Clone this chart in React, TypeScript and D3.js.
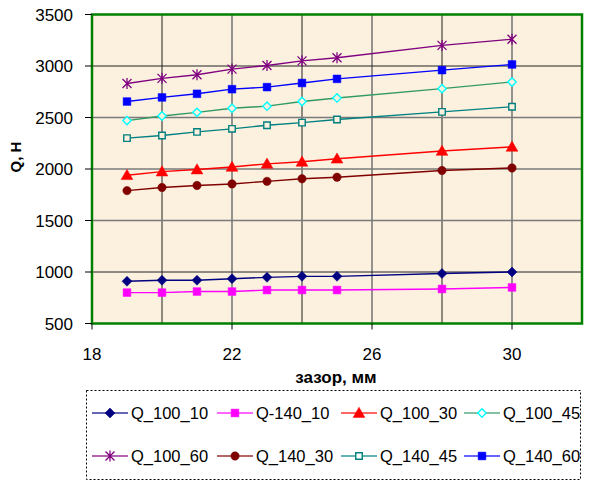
import React, { useEffect, useRef } from "react";
import * as d3 from "d3";

const gap = [19, 20, 21, 22, 23, 24, 25, 28, 30];

const q100_10 = [910, 920, 920, 935, 948, 958, 958, 985, 1000];
const q140_10 = [800, 800, 810, 810, 825, 825, 825, 835, 850];
const q100_30 = [1940, 1975, 1995, 2020, 2050, 2070, 2100, 2175, 2215];
const q100_45 = [2470, 2515, 2550, 2590, 2610, 2655, 2690, 2780, 2845];
const q100_60 = [2830, 2880, 2915, 2970, 3005, 3050, 3080, 3200, 3260];
const q140_30 = [1790, 1820, 1840, 1855, 1880, 1905, 1920, 1985, 2010];
const q140_45 = [2300, 2325, 2360, 2390, 2425, 2450, 2480, 2555, 2605];
const q140_60 = [2655, 2695, 2730, 2775, 2795, 2835, 2875, 2960, 3015];

const xTicks = [18, 22, 26, 30];
const yTicks = [500, 1000, 1500, 2000, 2500, 3000, 3500];

type Series = { name: string; values: number[]; line: string; marker: string; fill: string; shape: string };

const series: Series[] = [
  { name: "Q_100_10", values: q100_10, line: "#000080", marker: "#000080", fill: "#000080", shape: "diamond" },
  { name: "Q-140_10", values: q140_10, line: "#ff00ff", marker: "#ff00ff", fill: "#ff00ff", shape: "square" },
  { name: "Q_100_30", values: q100_30, line: "#ff0000", marker: "#ff0000", fill: "#ff0000", shape: "triangle" },
  { name: "Q_100_45", values: q100_45, line: "#339966", marker: "#00ffff", fill: "#fbf1de", shape: "diamond" },
  { name: "Q_100_60", values: q100_60, line: "#800080", marker: "#800080", fill: "none", shape: "star" },
  { name: "Q_140_30", values: q140_30, line: "#800000", marker: "#800000", fill: "#800000", shape: "circle" },
  { name: "Q_140_45", values: q140_45, line: "#008080", marker: "#008080", fill: "#fbf1de", shape: "square" },
  { name: "Q_140_60", values: q140_60, line: "#0000ff", marker: "#0000ff", fill: "#0000ff", shape: "square" },
];

const W = 589;
const H = 481;
const left = 92, right = 582, top = 14.5, bottom = 323.5;

function drawMarker(g: any, s: Series, x: number, y: number) {
  if (s.shape === "star") {
    const r = 4.5;
    const p = `M${x - r},${y - r}L${x + r},${y + r}M${x - r},${y + r}L${x + r},${y - r}M${x},${y - r - 1}L${x},${y + r + 1}`;
    g.append("path").attr("d", p).attr("stroke", s.marker).attr("stroke-width", 1.3).attr("fill", "none");
    return;
  }
  const hollow = s.fill !== s.marker;
  if (s.shape === "diamond") {
    const r = hollow ? 4.2 : 5;
    g.append("path")
      .attr("d", `M${x},${y - r}L${x + r},${y}L${x},${y + r}L${x - r},${y}Z`)
      .attr("fill", s.fill).attr("stroke", s.marker).attr("stroke-width", hollow ? 1.4 : 0.5);
    return;
  }
  const types: any = { square: d3.symbolSquare, triangle: d3.symbolTriangle, circle: d3.symbolCircle };
  const size = s.shape === "triangle" ? 60 : s.shape === "circle" ? 55 : hollow ? 42 : 60;
  g.append("path")
    .attr("d", d3.symbol().type(types[s.shape]).size(size)())
    .attr("transform", `translate(${x},${y + (s.shape === "triangle" ? 1 : 0)})`)
    .attr("fill", s.fill)
    .attr("stroke", s.marker)
    .attr("stroke-width", hollow ? 1.4 : 0.5);
}

export default function App() {
  const ref = useRef<SVGSVGElement>(null);

  useEffect(() => {
    const svg = d3.select(ref.current);
    svg.selectAll("*").remove();

    const x = d3.scaleLinear().domain([18, 32]).range([left, right]);
    const y = d3.scaleLinear().domain([500, 3500]).range([bottom, top]);
    const font = "Arial, 'Liberation Sans', sans-serif";

    // plot background
    svg.append("rect").attr("x", left).attr("y", top).attr("width", right - left).attr("height", bottom - top).attr("fill", "#fbf1de");

    // grid
    const grid = svg.append("g");
    d3.range(20, 31, 2).forEach((v) => {
      grid.append("line").attr("x1", x(v)).attr("x2", x(v)).attr("y1", top).attr("y2", bottom)
        .attr("stroke", v % 4 === 2 ? "#7a7a7a" : "#222").attr("stroke-width", v % 4 === 2 ? 1.6 : 1);
    });
    d3.range(1000, 3001, 500).forEach((v) => {
      const gray = v === 1500 || v === 2000 || v === 2500;
      grid.append("line").attr("x1", left).attr("x2", right).attr("y1", y(v)).attr("y2", y(v))
        .attr("stroke", gray ? "#7a7a7a" : "#222").attr("stroke-width", gray ? 1.6 : 1);
    });

    // series
    const line = d3.line<number>().x((d, i) => x(gap[i])).y((d) => y(d));
    series.forEach((s) => {
      svg.append("path").attr("d", line(s.values)).attr("fill", "none").attr("stroke", s.line).attr("stroke-width", 1.4);
    });
    series.forEach((s) => {
      const g = svg.append("g");
      s.values.forEach((v, i) => drawMarker(g, s, x(gap[i]), y(v)));
    });

    // frame
    svg.append("rect").attr("x", left).attr("y", top).attr("width", right - left).attr("height", bottom - top)
      .attr("fill", "none").attr("stroke", "#008000").attr("stroke-width", 2.5);

    // y axis
    yTicks.forEach((v) => {
      svg.append("line").attr("x1", left - 7).attr("x2", left).attr("y1", y(v)).attr("y2", y(v)).attr("stroke", "#000");
      svg.append("text").attr("x", 73).attr("y", y(v) + 6).attr("text-anchor", "end")
        .attr("font-family", font).attr("font-size", 17).text(v);
    });
    // x axis
    xTicks.forEach((v) => {
      svg.append("line").attr("x1", x(v)).attr("x2", x(v)).attr("y1", bottom).attr("y2", bottom + 6).attr("stroke", "#000");
      svg.append("text").attr("x", x(v)).attr("y", 360).attr("text-anchor", "middle")
        .attr("font-family", font).attr("font-size", 17).text(v);
    });

    svg.append("text").attr("transform", "translate(21,157) rotate(-90)").attr("text-anchor", "middle")
      .attr("font-family", font).attr("font-size", 15).attr("font-weight", "bold").text("Q, H");
    svg.append("text").attr("x", 336).attr("y", 383).attr("text-anchor", "middle")
      .attr("font-family", font).attr("font-size", 17).attr("font-weight", "bold").text("зазор, мм");

    // legend
    svg.append("rect").attr("x", 86.5).attr("y", 390.5).attr("width", 494).attr("height", 89)
      .attr("fill", "#fff").attr("stroke", "#000").attr("stroke-dasharray", "2,2");
    const cols = [92, 217, 341, 464];
    const rows = [413, 456];
    series.forEach((s, i) => {
      const cx = cols[i % 4];
      const cy = rows[Math.floor(i / 4)];
      const g = svg.append("g");
      g.append("line").attr("x1", cx).attr("x2", cx + 36).attr("y1", cy).attr("y2", cy)
        .attr("stroke", s.line).attr("stroke-width", 1.4).attr("opacity", 0.8);
      drawMarker(g, { ...s, fill: s.fill === "#fbf1de" ? "#fff" : s.fill }, cx + 18, cy);
      g.append("text").attr("x", cx + 39).attr("y", cy + 6).attr("font-family", font).attr("font-size", 16.5).text(s.name);
    });
  }, []);

  return (
    <div style={{ position: "fixed", left: 0, top: 0 }}>
      <svg ref={ref} width={W} height={H} style={{ display: "block", background: "#fff" }} />
    </div>
  );
}
